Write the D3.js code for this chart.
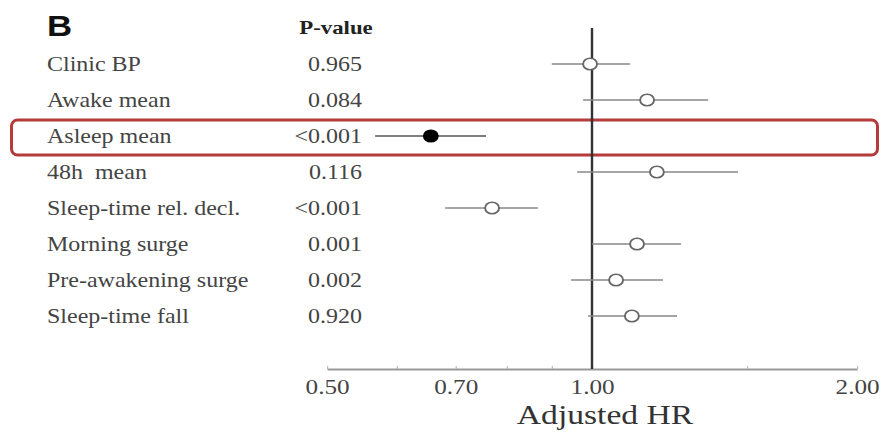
<!DOCTYPE html>
<html>
<head>
<meta charset="utf-8">
<script src="https://cdn.jsdelivr.net/npm/d3@7"></script>
<style>
  body { margin: 0; background: #fff; }
  svg { display: block; }
  text { white-space: pre; }
</style>
</head>
<body>
<svg id="forest"></svg>
<script>
// Data
const labels = ["Clinic BP", "Awake mean", "Asleep mean", "48h  mean", "Sleep-time rel. decl.",
    "Morning surge", "Pre-awakening surge", "Sleep-time fall"];
const pValues = ["0.965", "0.084", "<0.001", "0.116", "<0.001", "0.001", "0.002", "0.920"];
const hr = [0.995, 1.155, 0.656, 1.185, 0.770, 1.125, 1.065, 1.110];
const lower = [0.90, 0.977, 0.567, 0.962, 0.681, 1.00, 0.947, 0.99];
const upper = [1.105, 1.355, 0.758, 1.465, 0.868, 1.262, 1.204, 1.249];
const highlighted = ["Asleep mean"];
const majorTicks = [0.5, 0.7, 1.0, 2.0];
const minorTicks = [0.6, 0.8, 0.9, 1.5];

const W = 886, H = 434;
// the source picture is stretched sideways, so draw in a narrower space and scale x
const SX = 1.2;
const serif = '"Liberation Serif", "Times New Roman", serif';

const svg = d3.select('#forest')
    .attr('width', W)
    .attr('height', H);

// highlight box around the asleep row (drawn unscaled)
svg.append('rect')
    .attr('x', 11.5)
    .attr('y', 120)
    .attr('width', 866)
    .attr('height', 35)
    .attr('rx', 6)
    .attr('fill', 'none')
    .attr('stroke', '#b53a3a')
    .attr('stroke-width', 3);

const g = svg.append('g')
    .attr('transform', `scale(${SX},1)`);

const x = d3.scaleLog()
    .domain([0.5, 2.0])
    .range([327 / SX, 857 / SX]);

const y = d3.scalePoint()
    .domain(labels)
    .range([64, 316]);

const axisY = 369;

// panel letter
g.append('text')
    .attr('x', 47 / SX)
    .attr('y', 36)
    .attr('font-family', 'Arial, "Liberation Sans", sans-serif')
    .attr('font-weight', 'bold')
    .attr('font-size', 29)
    .attr('fill', '#111')
    .text('B');

// column header
g.append('text')
    .attr('x', 336 / SX)
    .attr('y', 34)
    .attr('text-anchor', 'middle')
    .attr('font-family', serif)
    .attr('font-weight', 'bold')
    .attr('font-size', 19)
    .attr('fill', '#222')
    .text('P-value');

// row labels and p-values
g.selectAll('text.label')
    .data(labels)
    .enter()
    .append('text')
    .attr('class', 'label')
    .attr('x', 47 / SX)
    .attr('y', d => y(d))
    .attr('dy', '0.33em')
    .attr('font-family', serif)
    .attr('font-size', 20)
    .attr('fill', '#444')
    .text(d => d);

g.selectAll('text.pval')
    .data(pValues)
    .enter()
    .append('text')
    .attr('class', 'pval')
    .attr('x', 362 / SX)
    .attr('y', (d, i) => y(labels[i]))
    .attr('dy', '0.33em')
    .attr('text-anchor', 'end')
    .attr('font-family', serif)
    .attr('font-size', 20)
    .attr('fill', '#444')
    .text(d => d);

// x axis, log scale
const axisG = g.append('g')
    .attr('transform', `translate(0,${axisY})`);

axisG.call(d3.axisBottom(x)
    .tickValues(majorTicks.concat(minorTicks))
    .tickSize(-3)
    .tickSizeOuter(0)
    .tickFormat(d => majorTicks.includes(d) ? d3.format('.2f')(d) : ''));

axisG.select('.domain')
    .attr('stroke', '#999')
    .attr('stroke-width', 2);
axisG.selectAll('.tick line')
    .attr('stroke', '#bbb')
    .attr('stroke-width', 1);
axisG.selectAll('.tick text')
    .attr('y', 10)
    .attr('dy', '0.71em')
    .attr('font-family', serif)
    .attr('font-size', 21)
    .attr('fill', '#444');

g.append('text')
    .attr('x', 605 / SX)
    .attr('y', 424)
    .attr('text-anchor', 'middle')
    .attr('font-family', serif)
    .attr('font-size', 28)
    .attr('fill', '#333')
    .text('Adjusted HR');

// reference line at HR = 1
g.append('line')
    .attr('x1', x(1))
    .attr('x2', x(1))
    .attr('y1', 28)
    .attr('y2', axisY)
    .attr('stroke', '#333')
    .attr('stroke-width', 2);

// confidence intervals
g.selectAll('line.ci')
    .data(labels)
    .enter()
    .append('line')
    .attr('class', 'ci')
    .attr('x1', (d, i) => x(lower[i]))
    .attr('x2', (d, i) => x(upper[i]))
    .attr('y1', d => y(d))
    .attr('y2', d => y(d))
    .attr('stroke', d => highlighted.includes(d) ? '#555' : '#888')
    .attr('stroke-width', 1.6);

// point estimates
g.selectAll('circle.est')
    .data(labels)
    .enter()
    .append('circle')
    .attr('class', 'est')
    .attr('cx', (d, i) => x(hr[i]))
    .attr('cy', d => y(d))
    .attr('r', 5.8)
    .attr('fill', d => highlighted.includes(d) ? '#000' : '#fff')
    .attr('stroke', d => highlighted.includes(d) ? '#000' : '#666')
    .attr('stroke-width', 1.6);
</script>
</body>
</html>
